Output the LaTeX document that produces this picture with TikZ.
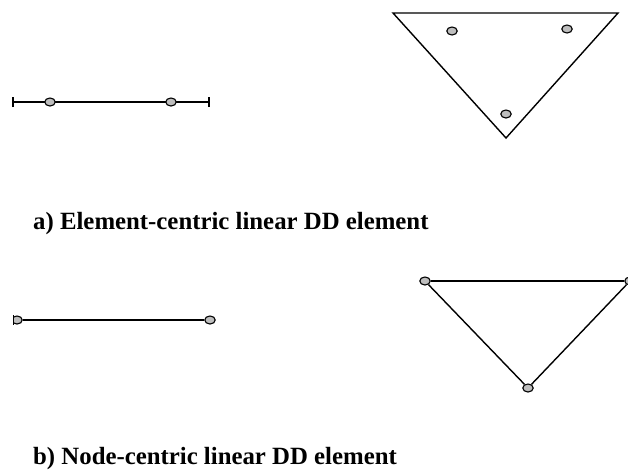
\documentclass[tikz,border=0pt]{standalone}
\usepackage{fontspec}
\setmainfont{Liberation Serif}
\usetikzlibrary{shapes.geometric}
\definecolor{dotgray}{RGB}{190,190,190}
\begin{document}
\begin{tikzpicture}[x=1pt,y=-1pt,
  dot/.style={ellipse,draw=black,fill=dotgray,line width=1.1pt,minimum width=10.5pt,minimum height=8pt,inner sep=0pt},
  edge/.style={line width=1.4pt,black},
  caption/.style={anchor=base west,inner sep=0pt,font=\bfseries\fontsize{24.8}{28}\selectfont}]
\clip (0,0) rectangle (628,472);
\fill[white] (0,0) rectangle (628,472);
% a) line element
\coordinate (la) at (13,102);
\coordinate (lb) at (209,102);
\draw[edge] (la) -- (lb);
\draw[edge] ([yshift=-5pt]la) -- ([yshift=5pt]la);
\draw[edge] ([yshift=-5pt]lb) -- ([yshift=5pt]lb);
\node[dot] (l1) at (50,102) {};
\node[dot] (l2) at (171,102) {};
% a) triangle element
\coordinate (ta) at (393,13);
\coordinate (tb) at (618,13);
\coordinate (tc) at (506,138);
\draw[edge,line join=miter] (ta) -- (tb) -- (tc) -- cycle;
\node[dot] (t1) at (452,31) {};
\node[dot] (t2) at (567,29) {};
\node[dot] (t3) at (506,114) {};
\node[caption] (capa) at (33,229) {a) Element-centric linear DD element};
% b) line element
\begin{scope}
\clip (13,0) rectangle (628,472);
\node[dot] (m1) at (17,320) {};
\node[dot] (m2) at (210,320) {};
\draw[edge] (m1) -- (m2);
\draw[line width=1.4pt] (13.7,315) -- (13.7,325);
\end{scope}
% b) triangle element
\node[dot] (n1) at (425,281) {};
\node[dot] (n2) at (630,281) {};
\node[dot] (n3) at (528,388) {};
\draw[edge] (n1) -- (n2);
\draw[edge] (n1) -- (n3);
\draw[edge] (n3) -- (n2);
\node[caption] (capb) at (33,464) {b) Node-centric linear DD element};
\end{tikzpicture}
\end{document}
